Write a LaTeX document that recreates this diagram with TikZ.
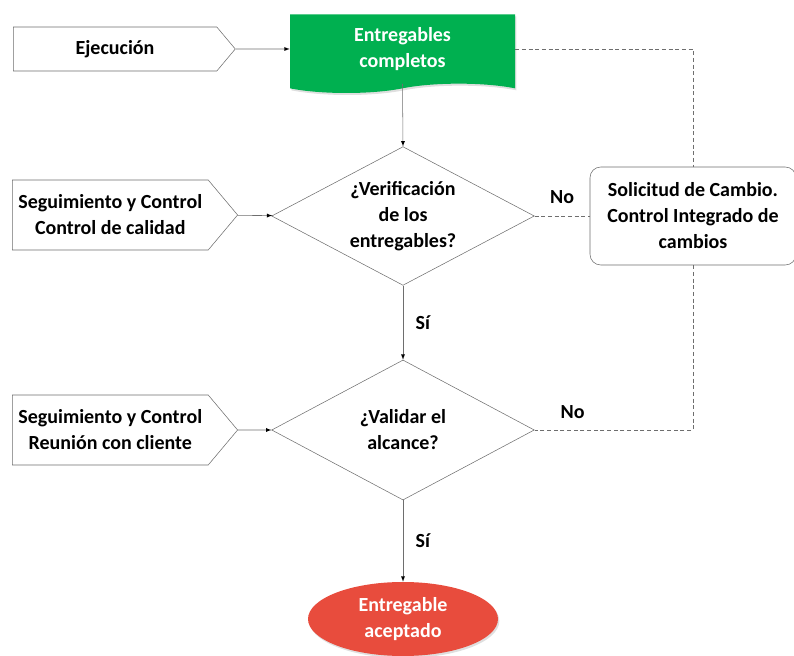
\documentclass[tikz,border=0pt]{standalone}
\usepackage{fontspec}
\setmainfont{Carlito}
\usetikzlibrary{shapes.geometric,shapes.symbols,shadows}
\definecolor{entgreen}{RGB}{0,176,80}
\definecolor{acepred}{RGB}{232,76,61}
\definecolor{linegray}{RGB}{110,110,110}

\begin{document}
\begin{tikzpicture}[x=0.75pt,y=-0.75pt,>=latex,
  every node/.style={font=\fontsize{15}{19.5}\selectfont\bfseries,align=center},
  entrada/.style={shape=signal,signal to=east,signal pointer angle=100,draw=linegray,fill=white,
    minimum width=169pt,minimum height=52.5pt,inner sep=2pt,anchor=west},
  decision/.style={diamond,aspect=1.9,draw=linegray,minimum width=197pt,minimum height=104pt,inner sep=0pt},
  flecha/.style={draw=linegray,-{latex[black]}},
  sombra/.style={drop shadow={shadow xshift=1pt,shadow yshift=-1.5pt,opacity=0.25}},
  rayas/.style={draw=linegray,dash pattern=on 3pt off 2pt}]
\useasboundingbox (0,0) rectangle (794,656);

\node[entrada,minimum width=166.5pt,minimum height=33pt] (EJ) at (13,49) {Ejecución};
\node[shape=tape,tape bend top=none,tape bend bottom=in and out,tape bend height=7pt,sombra,
  fill=entgreen,text=white,minimum width=168.75pt,minimum height=59pt] (ENT) at (402.5,49)
  {Entregables\\completos};
\node[decision] (V1) at (403,216) {¿Verificación\\de los\\entregables?};
\node[decision,minimum height=105pt] (V2) at (403,430) {¿Validar el\\alcance?};
\node[entrada] (SC) at (12,215) {Seguimiento y Control\\Control de calidad};
\node[entrada] (SR) at (12,430) {Seguimiento y Control\\Reunión con cliente};
\node[draw=linegray,rounded corners=8pt,minimum width=154.5pt,minimum height=73.5pt,fill=white] (SOL) at (693,216)
  {Solicitud de Cambio.\\Control Integrado de\\cambios};
\node[ellipse,sombra,fill=acepred,text=white,minimum width=142.5pt,minimum height=55.5pt] (ACEP) at (403,619)
  {Entregable\\aceptado};

\draw[flecha] (EJ) -- (ENT);
\draw[flecha] (SC) -- (V1);
\draw[flecha] (SR) -- (V2);
\draw[flecha] (ENT.south) -- (V1.north);
\draw[flecha] (V1.south) -- node[right=6pt]{Sí} (V2.north);
\draw[flecha] (V2.south) -- node[right=6pt]{Sí} (ACEP.north);
\draw[rayas] (ENT.east) -| (SOL.north);
\draw[rayas] (V1.east) -- node[above=6pt]{No} (SOL.west);
\draw[rayas] (SOL.south) |- node[above=5pt,pos=0.88]{No} (V2.east);
\end{tikzpicture}
\end{document}
